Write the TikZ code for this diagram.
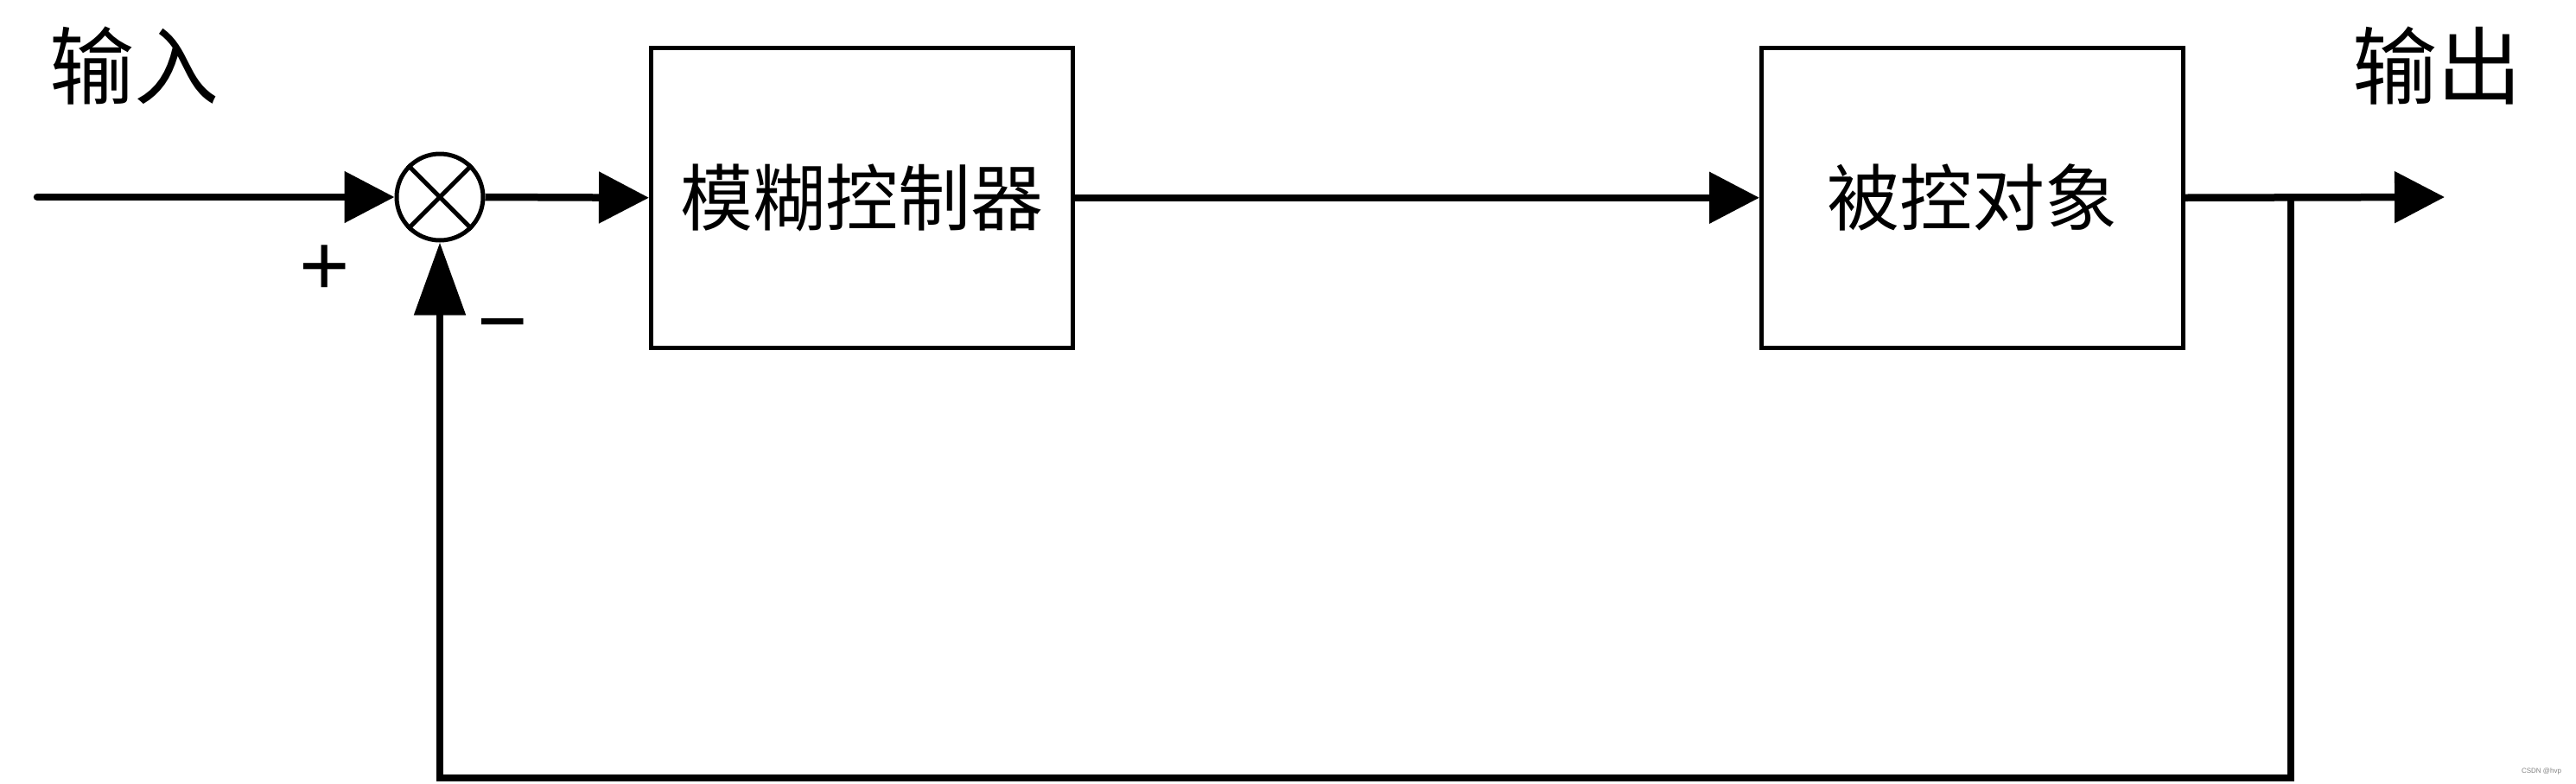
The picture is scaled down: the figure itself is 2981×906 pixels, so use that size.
\documentclass[tikz,border=0pt]{standalone}
\usepackage{fontspec}
\newfontfamily\cjk{Noto Sans CJK SC}
\newfontfamily\signfont{Liberation Sans}
\usetikzlibrary{arrows.meta}
\begin{document}
\begin{tikzpicture}[x=1pt,y=-1pt,
  blockbox/.style={draw,line width=4.5pt,minimum width=488pt,minimum height=347pt,inner sep=0pt,anchor=north west,
    font=\cjk\fontsize{84}{90}\selectfont},
  sig/.style={line width=8.5pt},
  tipA/.style={-{Triangle[length=58pt,width=58pt]}},
  tipB/.style={-{Triangle[length=84pt,width=58pt]}},
  lbl/.style={font=\cjk\fontsize{98}{104}\selectfont,inner sep=0pt},
  pm/.style={font=\signfont\fontsize{100}{104}\selectfont,inner sep=0pt}]
\useasboundingbox (0,0) rectangle (2981,906);
% blocks
\node[blockbox] (fc) at (751,53) {模糊控制器};
\node[blockbox] (plant) at (2036,53) {被控对象};
% summing junction
\node[draw,circle,line width=5pt,minimum size=100pt,inner sep=0pt] (sum) at (509,228) {};
\draw[line width=5pt] (sum.north west) -- (sum.south east) (sum.north east) -- (sum.south west);
% coordinates
\coordinate (in) at (43,228);
\coordinate (out) at (2829,228);
\coordinate (br) at (2651,228);
\coordinate (c1) at (2651,900);
\coordinate (c2) at (509,900);
% connectors
\draw[sig,tipA,line cap=round] (in) -- (sum.west);
\draw[sig,tipA] (sum.east) -- (fc.west);
\draw[sig,tipA] (fc.east) -- (plant.west);
\draw[sig,tipA] (plant.east) -- (out);
\draw[sig,tipB,line join=miter] (br) -- (c1) -- (c2) -- (sum.south);
% labels
\node[lbl] (lin) at (155,76) {输入};
\node[lbl] (lout) at (2820,76) {输出};
\node[pm] (plus) at (376,313) {+};
\node[pm] (minus) at (582,387) {−};
\node[font=\signfont\fontsize{8}{9}\selectfont,text=gray,inner sep=0pt] (wm) at (2941,892) {CSDN @hvp};
\end{tikzpicture}
\end{document}
